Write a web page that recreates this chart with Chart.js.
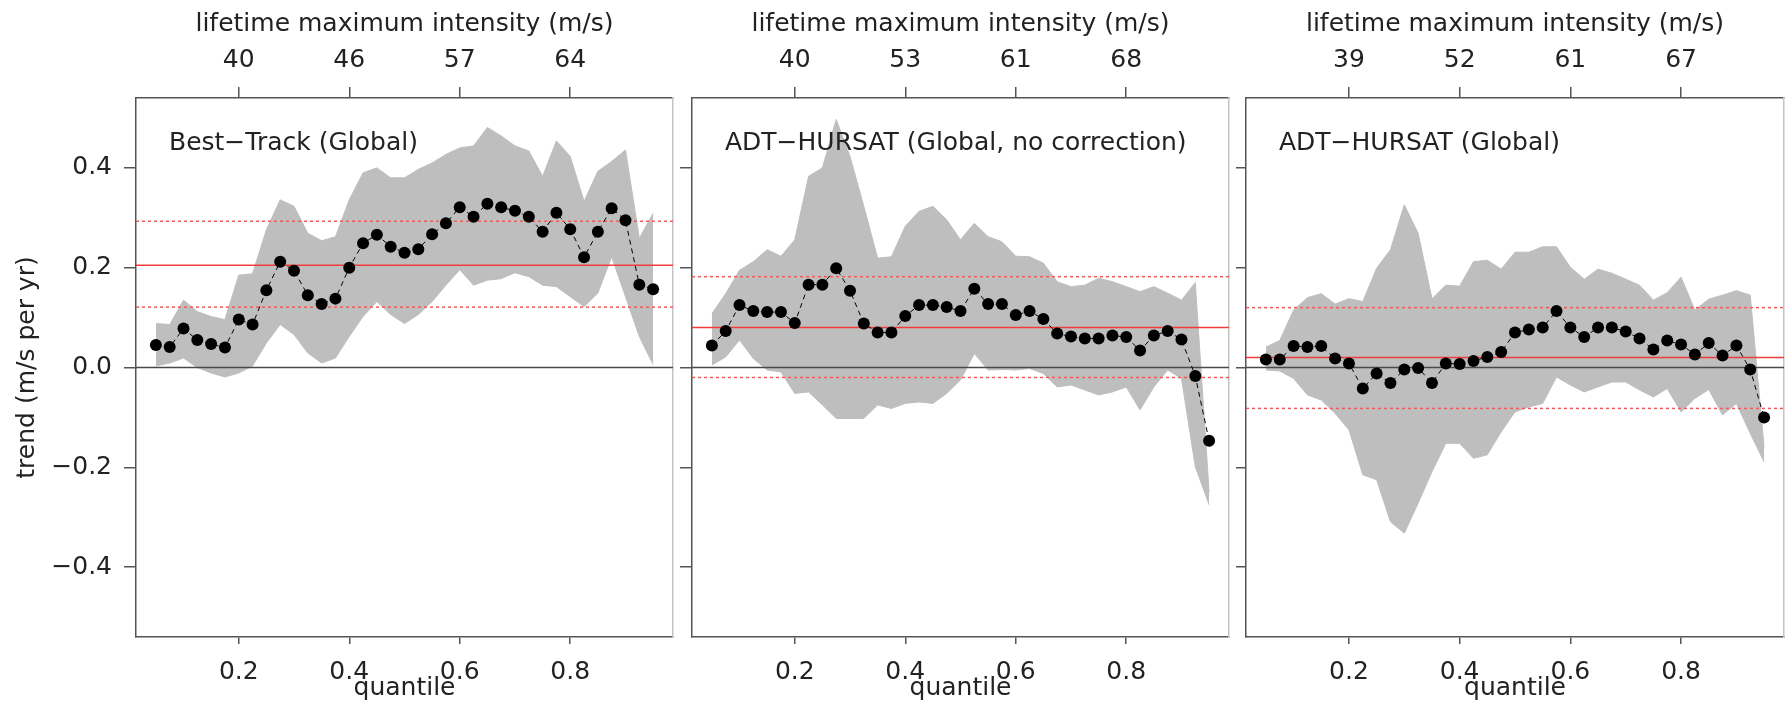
<!DOCTYPE html>
<html>
<head>
<meta charset="utf-8">
<script src="https://cdn.jsdelivr.net/npm/chart.js@4/dist/chart.umd.min.js"></script>
<style>
  html, body { margin: 0; background: #fff; }
  #wrap { position: relative; width: 1792px; height: 708px; overflow: hidden; background: #fff; }
  canvas { position: absolute; top: 0; }
</style>
</head>
<body>
<div id="wrap">
  <canvas id="p1" width="680" height="708" style="left:0px"></canvas>
  <canvas id="p2" width="556" height="708" style="left:680px"></canvas>
  <canvas id="p3" width="556" height="708" style="left:1236px"></canvas>
</div>
<script>
// ================== Datos ==================
const QUANTILES = [0.05, 0.075, 0.1, 0.125, 0.15, 0.175, 0.2, 0.225, 0.25, 0.275, 0.3, 0.325,
  0.35, 0.375, 0.4, 0.425, 0.45, 0.475, 0.5, 0.525, 0.55, 0.575, 0.6, 0.625, 0.65, 0.675,
  0.7, 0.725, 0.75, 0.775, 0.8, 0.825, 0.85, 0.875, 0.9, 0.925, 0.95];

const Q_TICKS = [0.2, 0.4, 0.6, 0.8];
const Y_TICKS = [-0.4, -0.2, 0, 0.2, 0.4];

// Best-Track (Global)
const BT_LABEL = "Best\u2212Track (Global)";
const BT_TOP = ["40", "46", "57", "64"];
const BT_TREND = [0.045, 0.041, 0.078, 0.055, 0.047, 0.040, 0.096, 0.086, 0.155, 0.212, 0.194, 0.145,
  0.127, 0.138, 0.200, 0.249, 0.266, 0.242, 0.230, 0.237, 0.267, 0.289, 0.321, 0.302, 0.328, 0.321,
  0.314, 0.302, 0.272, 0.310, 0.277, 0.221, 0.272, 0.319, 0.295, 0.166, 0.157];
const BT_UPPER = [0.088, 0.086, 0.135, 0.112, 0.102, 0.096, 0.185, 0.188, 0.276, 0.336, 0.323, 0.269,
  0.254, 0.262, 0.336, 0.390, 0.400, 0.380, 0.380, 0.397, 0.410, 0.427, 0.440, 0.444, 0.481, 0.464,
  0.444, 0.434, 0.383, 0.454, 0.423, 0.333, 0.393, 0.413, 0.436, 0.259, 0.309];
const BT_LOWER = [0.003, 0.009, 0.019, 0.000, -0.011, -0.019, -0.011, 0.003, 0.049, 0.086, 0.066, 0.029,
  0.009, 0.019, 0.062, 0.102, 0.132, 0.106, 0.088, 0.106, 0.132, 0.165, 0.196, 0.165, 0.175, 0.178,
  0.190, 0.182, 0.165, 0.162, 0.142, 0.122, 0.149, 0.222, 0.142, 0.062, 0.006];
const BT_REF = [0.121, 0.205, 0.293];   // banda inferior, media, banda superior

// ADT-HURSAT (Global, no correction)
const NC_LABEL = "ADT\u2212HURSAT (Global, no correction)";
const NC_TOP = ["40", "53", "61", "68"];
const NC_TREND = [0.044, 0.073, 0.125, 0.113, 0.111, 0.111, 0.089, 0.166, 0.166, 0.199, 0.154, 0.088,
  0.070, 0.070, 0.103, 0.125, 0.125, 0.121, 0.113, 0.158, 0.127, 0.127, 0.105, 0.113, 0.097, 0.068,
  0.062, 0.058, 0.058, 0.064, 0.061, 0.034, 0.064, 0.073, 0.056, -0.017, -0.147];
const NC_UPPER = [0.108, 0.148, 0.195, 0.212, 0.236, 0.223, 0.256, 0.383, 0.400, 0.497, 0.423, 0.323,
  0.219, 0.222, 0.283, 0.313, 0.323, 0.296, 0.256, 0.289, 0.262, 0.252, 0.223, 0.222, 0.209, 0.172,
  0.162, 0.165, 0.179, 0.172, 0.162, 0.152, 0.162, 0.149, 0.135, 0.170, -0.250];
const NC_LOWER = [0.005, 0.021, 0.055, 0.018, -0.005, -0.009, -0.052, -0.049, -0.075, -0.102, -0.102, -0.102,
  -0.075, -0.082, -0.072, -0.069, -0.072, -0.052, -0.025, 0.028, -0.005, -0.004, -0.005, -0.002, -0.012, -0.039,
  -0.035, -0.045, -0.055, -0.049, -0.039, -0.085, -0.039, -0.005, -0.022, -0.199, -0.275];
const NC_REF = [-0.020, 0.080, 0.182];

// ADT-HURSAT (Global)
const AH_LABEL = "ADT\u2212HURSAT (Global)";
const AH_TOP = ["39", "52", "61", "67"];
const AH_TREND = [0.016, 0.016, 0.043, 0.041, 0.043, 0.018, 0.008, -0.042, -0.012, -0.031, -0.004, -0.001,
  -0.031, 0.008, 0.007, 0.013, 0.021, 0.031, 0.070, 0.076, 0.080, 0.113, 0.080, 0.061, 0.080, 0.080,
  0.072, 0.058, 0.036, 0.054, 0.046, 0.026, 0.049, 0.024, 0.044, -0.004, -0.100];
const AH_UPPER = [0.041, 0.054, 0.115, 0.140, 0.148, 0.127, 0.138, 0.132, 0.199, 0.236, 0.326, 0.269,
  0.138, 0.165, 0.163, 0.212, 0.215, 0.197, 0.231, 0.231, 0.242, 0.242, 0.201, 0.177, 0.197, 0.189,
  0.177, 0.165, 0.135, 0.150, 0.181, 0.115, 0.137, 0.145, 0.154, 0.145, -0.160];
const AH_LOWER = [-0.005, -0.007, -0.022, -0.055, -0.065, -0.092, -0.125, -0.215, -0.225, -0.309, -0.332, -0.272,
  -0.209, -0.152, -0.152, -0.182, -0.175, -0.129, -0.089, -0.079, -0.072, -0.019, -0.035, -0.049, -0.039, -0.029,
  -0.029, -0.045, -0.059, -0.042, -0.089, -0.062, -0.044, -0.095, -0.072, -0.132, -0.189];
const AH_REF = [-0.082, 0.020, 0.120];

// ================== Estilo ==================
const X_MIN = 0.014, X_MAX = 0.986;
const Y_MIN = -0.54, Y_MAX = 0.54;
const FONT = { family: "'DejaVu Sans', sans-serif", size: 25 };
const TEXT_COLOR = "#222";
const AXIS_COLOR = "#555";
const BAND_COLOR = "#bebebe";

// ================== Util ==================
function puntos(ys) {
  return QUANTILES.map((q, i) => ({ x: q, y: ys[i] }));
}

function horizontal(v) {
  return [{ x: X_MIN, y: v }, { x: X_MAX, y: v }];
}

function fijarTicks(valores) {
  return scale => { scale.ticks = valores.map(v => ({ value: v })); };
}

function fmtY(v) {
  const s = Math.abs(v).toFixed(1);
  return v < -1e-9 ? "\u2212" + s : s;
}

// texto dentro del panel
const etiquetaPanel = {
  id: "etiquetaPanel",
  afterDatasetsDraw(chart, args, opts) {
    const ctx = chart.ctx;
    ctx.save();
    ctx.font = "25px 'DejaVu Sans', sans-serif";
    ctx.fillStyle = TEXT_COLOR;
    ctx.textBaseline = "alphabetic";
    ctx.textAlign = "left";
    ctx.fillText(opts.text, chart.chartArea.left + 33, chart.chartArea.top + 52);
    ctx.restore();
  }
};

// ================== Paneles ==================
function crearPanel(id, p) {
  const datasets = [
    { data: puntos(p.trend), borderColor: "#000", borderWidth: 1, borderDash: [5, 4],
      pointRadius: 6, pointBackgroundColor: "#000", pointBorderWidth: 0, fill: false, order: 0 },
    { data: horizontal(p.ref[1]), borderColor: "#f03c3c", borderWidth: 1.5, pointRadius: 0, fill: false, order: 1 },
    { data: horizontal(p.ref[0]), borderColor: "#f25a5a", borderWidth: 1.5, borderDash: [3, 3], pointRadius: 0, fill: false, order: 1 },
    { data: horizontal(p.ref[2]), borderColor: "#f25a5a", borderWidth: 1.5, borderDash: [3, 3], pointRadius: 0, fill: false, order: 1 },
    { data: horizontal(0), borderColor: "#4a4a4a", borderWidth: 1.5, pointRadius: 0, fill: false, order: 2 },
    { data: puntos(p.lower), borderColor: BAND_COLOR, borderWidth: 1, pointRadius: 0, fill: false, order: 5 },
    { data: puntos(p.upper), borderColor: BAND_COLOR, borderWidth: 1, pointRadius: 0, fill: "-1",
      backgroundColor: BAND_COLOR, order: 5 }
  ];

  return new Chart(document.getElementById(id), {
    type: "line",
    data: { datasets },
    plugins: [etiquetaPanel],
    options: {
      responsive: false,
      animation: false,
      devicePixelRatio: 1,
      events: [],
      layout: { padding: { left: 0, right: p.padRight, top: 0, bottom: 4.5 } },
      plugins: {
        legend: { display: false },
        tooltip: { enabled: false },
        etiquetaPanel: { text: p.label }
      },
      scales: {
        x: {
          type: "linear", position: "bottom", min: X_MIN, max: X_MAX,
          afterBuildTicks: fijarTicks(Q_TICKS),
          afterFit: s => { s.height = 66.5; },
          grid: { drawOnChartArea: false, drawTicks: true, tickLength: 7, color: AXIS_COLOR, lineWidth: 1.5 },
          border: { color: AXIS_COLOR, width: 1.5 },
          ticks: { font: FONT, color: TEXT_COLOR, padding: 13.5, autoSkip: false, maxRotation: 0,
                   callback: v => v.toFixed(1) },
          title: { display: true, text: "quantile", font: FONT, color: TEXT_COLOR, padding: 0 }
        },
        x2: {
          type: "linear", position: "top", min: X_MIN, max: X_MAX,
          afterBuildTicks: fijarTicks(Q_TICKS),
          afterFit: s => { s.height = 98; },
          grid: { drawOnChartArea: false, drawTicks: true, tickLength: 11, color: AXIS_COLOR, lineWidth: 1.5 },
          border: { color: AXIS_COLOR, width: 1.5 },
          ticks: { font: FONT, color: TEXT_COLOR, padding: 11.5, autoSkip: false, maxRotation: 0,
                   callback: (v, i) => p.top[i] },
          title: { display: true, text: "lifetime maximum intensity (m/s)", font: FONT, color: TEXT_COLOR,
                   padding: { top: 9, bottom: 0 } }
        },
        y: {
          type: "linear", position: "left", min: Y_MIN, max: Y_MAX,
          afterBuildTicks: fijarTicks(Y_TICKS),
          afterFit: s => { s.width = p.yWidth; },
          grid: { drawOnChartArea: false, drawTicks: true, tickLength: 12, color: AXIS_COLOR, lineWidth: 1.5 },
          border: { color: AXIS_COLOR, width: 1.5 },
          ticks: { display: p.showY, font: FONT, color: TEXT_COLOR, padding: 12, callback: fmtY },
          title: { display: p.showY, text: "trend (m/s per yr)", font: FONT, color: TEXT_COLOR,
                   padding: { top: 12, bottom: 0 } }
        },
        y2: {
          type: "linear", position: "right", min: Y_MIN, max: Y_MAX,
          afterFit: s => { s.width = 0; },
          grid: { display: false },
          border: { color: "#c4c4c4", width: 1.5 },
          ticks: { display: false }
        }
      }
    }
  });
}

crearPanel("p1", { label: BT_LABEL, top: BT_TOP, trend: BT_TREND, upper: BT_UPPER, lower: BT_LOWER,
  ref: BT_REF, yWidth: 136, padRight: 7, showY: true });
crearPanel("p2", { label: NC_LABEL, top: NC_TOP, trend: NC_TREND, upper: NC_UPPER, lower: NC_LOWER,
  ref: NC_REF, yWidth: 12, padRight: 7, showY: false });
crearPanel("p3", { label: AH_LABEL, top: AH_TOP, trend: AH_TREND, upper: AH_UPPER, lower: AH_LOWER,
  ref: AH_REF, yWidth: 10, padRight: 8, showY: false });
</script>
</body>
</html>
